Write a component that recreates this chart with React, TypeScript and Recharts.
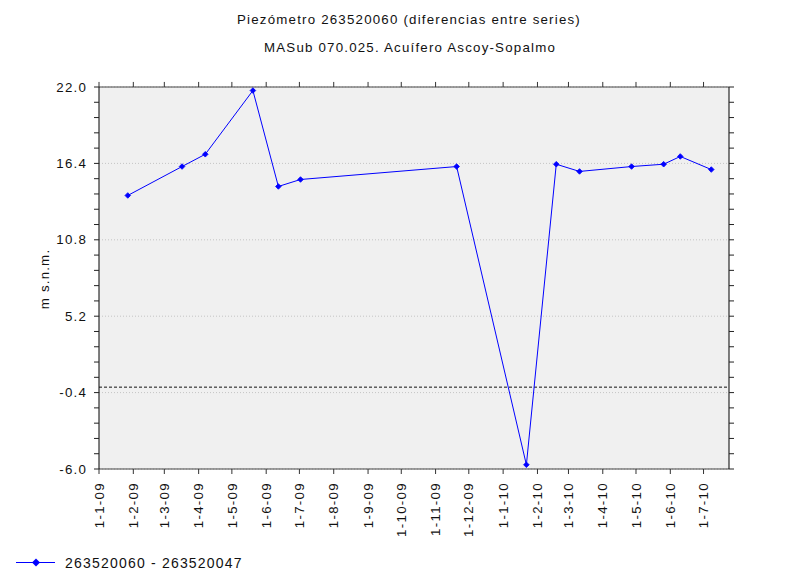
import React from "react";
import {
  LineChart,
  Line,
  XAxis,
  YAxis,
  CartesianGrid,
  ReferenceLine,
} from "recharts";

// measurement dates (differences between the two piezometers)
const dates = [
  "2009-01-27",
  "2009-03-17",
  "2009-04-07",
  "2009-05-20",
  "2009-06-12",
  "2009-07-02",
  "2009-11-20",
  "2010-01-22",
  "2010-02-18",
  "2010-03-11",
  "2010-04-27",
  "2010-05-26",
  "2010-06-10",
  "2010-07-08",
];

const values = [
  14.05, 16.17, 17.07, 21.74, 14.71, 15.22, 16.17, -5.69, 16.34, 15.81, 16.17,
  16.34, 16.91, 15.95,
];

const monthLabels = [
  "1-1-09", "1-2-09", "1-3-09", "1-4-09", "1-5-09", "1-6-09", "1-7-09",
  "1-8-09", "1-9-09", "1-10-09", "1-11-09", "1-12-09", "1-1-10", "1-2-10",
  "1-3-10", "1-4-10", "1-5-10", "1-6-10", "1-7-10",
];

const majorTicks = [-6.0, -0.4, 5.2, 10.8, 16.4, 22.0];

const seriesName = "263520060 - 263520047";
const title = "Piezómetro 263520060 (diferencias entre series)";
const subtitle = "MASub 070.025. Acuífero Ascoy-Sopalmo";
const yLabel = "m s.n.m.";

const toTs = (s: string) => {
  const [y, m, d] = s.split("-").map(Number);
  return Date.UTC(y, m - 1, d);
};
const labelTs = (s: string) => {
  const [d, m, yy] = s.split("-").map(Number);
  return Date.UTC(2000 + yy, m - 1, d);
};

const rows = dates.map((d, i) => ({ t: toTs(d), v: values[i] }));
const xTicks = monthLabels.map(labelTs);
const tickToLabel: Record<number, string> = {};
monthLabels.forEach((l) => (tickToLabel[labelTs(l)] = l));

// 4 minor ticks between majors
const yTicks: number[] = [];
for (let i = 0; i < majorTicks.length - 1; i++) {
  const step = (majorTicks[i + 1] - majorTicks[i]) / 5;
  for (let k = 0; k < 5; k++) yTicks.push(+(majorTicks[i] + k * step).toFixed(3));
}
yTicks.push(majorTicks[majorTicks.length - 1]);

const FONT = "'Liberation Sans', Arial, sans-serif";
const xDomain = [toTs("2009-01-01"), toTs("2010-07-24")];
const yDomain = [-6, 22];
const MARGIN = { top: 87, right: 57, bottom: 46, left: 39 };
const TICK = 5;
const TOP_TICK_LEN = 0.37; // ~5px in y units

const NoLabel = () => null;

const YTick = (props: any) => {
  const { x, y, payload } = props;
  const isMajor = majorTicks.some((m) => Math.abs(m - payload.value) < 1e-6);
  if (!isMajor) return null;
  return (
    <text
      x={x}
      y={y}
      dy={4.5}
      textAnchor="end"
      fontFamily={FONT}
      fontSize={13.3}
      letterSpacing={1.2}
      fill="#111"
    >
      {payload.value.toFixed(1)}
    </text>
  );
};

const XTick = (props: any) => {
  const { x, y, payload } = props;
  return (
    <text
      x={x}
      y={y}
      dy={4.7}
      transform={`rotate(-90, ${x}, ${y})`}
      textAnchor="end"
      fontFamily={FONT}
      fontSize={13.3}
      letterSpacing={1.3}
      fill="#111"
    >
      {tickToLabel[payload.value]}
    </text>
  );
};

const Diamond = (props: any) => {
  const { cx, cy } = props;
  if (cx == null || cy == null) return null;
  const r = 2.8;
  return (
    <path
      d={`M${cx},${cy - r}L${cx + r},${cy}L${cx},${cy + r}L${cx - r},${cy}Z`}
      fill="#0000ff"
      stroke="#0000ff"
      strokeWidth={0.8}
    />
  );
};

export default function App() {
  return (
    <div
      style={{
        position: "absolute",
        left: 0,
        top: 0,
        width: 806,
        height: 575,
        background: "#fff",
      }}
    >
      <LineChart width={806} height={575} data={rows} margin={MARGIN}>
        <CartesianGrid
          horizontal
          vertical={false}
          horizontalValues={majorTicks}
          stroke="#c4c4c4"
          strokeDasharray="1 2"
          fill="#f0f0f0"
        />
        <XAxis
          dataKey="t"
          type="number"
          domain={xDomain}
          ticks={xTicks}
          interval={0}
          allowDataOverflow
          height={60}
          tickSize={TICK}
          tickMargin={8}
          tick={<XTick />}
          axisLine={{ stroke: "#444" }}
          tickLine={{ stroke: "#333" }}
        />
        <YAxis
          type="number"
          domain={yDomain}
          ticks={yTicks}
          interval={0}
          allowDataOverflow
          width={60}
          tickSize={TICK}
          tickMargin={7}
          tick={<YTick />}
          axisLine={{ stroke: "#000" }}
          tickLine={{ stroke: "#222" }}
        />
        <YAxis
          yAxisId="right"
          orientation="right"
          type="number"
          domain={yDomain}
          ticks={yTicks}
          interval={0}
          allowDataOverflow
          width={20}
          tickSize={TICK}
          tick={<NoLabel />}
          axisLine={{ stroke: "#000" }}
          tickLine={{ stroke: "#222" }}
        />
        <ReferenceLine y={22} stroke="#444" />
        {xTicks.map((t) => (
          <ReferenceLine
            key={t}
            segment={[
              { x: t, y: yDomain[1] },
              { x: t, y: yDomain[1] + TOP_TICK_LEN },
            ]}
            ifOverflow="visible"
            stroke="#333"
          />
        ))}
        <ReferenceLine y={0} stroke="#111" strokeDasharray="3 2" />
        <Line
          type="linear"
          dataKey="v"
          name={seriesName}
          stroke="#0000ff"
          strokeWidth={1}
          dot={<Diamond />}
          activeDot={false}
          isAnimationActive={false}
        />
      </LineChart>
      <svg
        width={806}
        height={575}
        style={{ position: "absolute", left: 0, top: 0, pointerEvents: "none" }}
      >
        <text
          x={409}
          y={24}
          textAnchor="middle"
          fontFamily={FONT}
          fontSize={13.3}
          letterSpacing={1.2}
          fill="#111"
        >
          {title}
        </text>
        <text
          x={410}
          y={52}
          textAnchor="middle"
          fontFamily={FONT}
          fontSize={13.3}
          letterSpacing={1.2}
          fill="#111"
        >
          {subtitle}
        </text>
        <text
          x={0}
          y={0}
          transform="translate(49, 279) rotate(-90)"
          textAnchor="middle"
          fontFamily={FONT}
          fontSize={13.3}
          letterSpacing={1.2}
          fill="#111"
        >
          {yLabel}
        </text>
        <line x1={16} y1={562.5} x2={55} y2={562.5} stroke="#0000ff" strokeWidth={1} />
        <path d="M36,558.5L40,562.5L36,566.5L32,562.5Z" fill="#0000ff" />
        <text
          x={65}
          y={567.5}
          fontFamily={FONT}
          fontSize={14}
          letterSpacing={1.2}
          fill="#111"
        >
          {seriesName}
        </text>
      </svg>
    </div>
  );
}
